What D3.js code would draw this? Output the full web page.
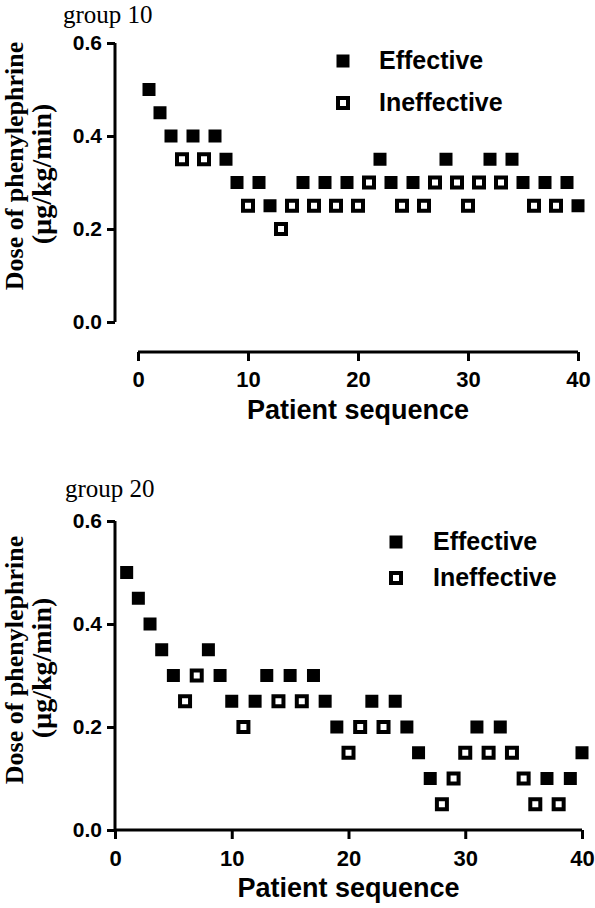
<!DOCTYPE html>
<html>
<head>
<meta charset="utf-8">
<script src="https://cdn.jsdelivr.net/npm/d3@7/dist/d3.min.js"></script>
<style>
  html, body { margin: 0; padding: 0; background: #fff; }
  svg { display: block; }
</style>
</head>
<body>
<div id="chart"></div>
<script>
// ---------------- DATA ----------------
const patientSeq = [1,2,3,4,5,6,7,8,9,10,11,12,13,14,15,16,17,18,19,20,
                    21,22,23,24,25,26,27,28,29,30,31,32,33,34,35,36,37,38,39,40];

const group10Dose = [0.50,0.45,0.40,0.35,0.40,0.35,0.40,0.35,0.30,0.25,
                     0.30,0.25,0.20,0.25,0.30,0.25,0.30,0.25,0.30,0.25,
                     0.30,0.35,0.30,0.25,0.30,0.25,0.30,0.35,0.30,0.25,
                     0.30,0.35,0.30,0.35,0.30,0.25,0.30,0.25,0.30,0.25];
const group10Outcome = ["E","E","E","I","E","I","E","E","E","I",
                        "E","E","I","I","E","I","E","I","E","I",
                        "I","E","E","I","E","I","I","E","I","I",
                        "I","E","I","E","E","I","E","I","E","E"];

const group20Dose = [0.50,0.45,0.40,0.35,0.30,0.25,0.30,0.35,0.30,0.25,
                     0.20,0.25,0.30,0.25,0.30,0.25,0.30,0.25,0.20,0.15,
                     0.20,0.25,0.20,0.25,0.20,0.15,0.10,0.05,0.10,0.15,
                     0.20,0.15,0.20,0.15,0.10,0.05,0.10,0.05,0.10,0.15];
const group20Outcome = ["E","E","E","E","E","I","I","E","E","E",
                        "I","E","E","I","E","I","E","E","E","I",
                        "I","E","I","E","E","E","E","I","I","I",
                        "E","I","E","I","I","I","E","I","E","E"];

const seriesNames = ["Effective", "Ineffective"];
const seriesCodes = ["E", "I"];
const yTicks = [0.0, 0.2, 0.4, 0.6];
const xTicks = [0, 10, 20, 30, 40];
const panelTitles = ["group 10", "group 20"];
const yTitleLines = ["Dose of phenylephrine", "(\u00b5g/kg/min)"];
const xTitle = "Patient sequence";

// ---------------- LAYOUT ----------------
const W = 595, H = 908;
const SANS = "'Liberation Sans', Arial, Helvetica, sans-serif";
const SERIF = "'Liberation Serif', 'Times New Roman', Times, serif";

const panels = [
  { title: panelTitles[0], dose: group10Dose, outcome: group10Outcome,
    titleX: 63, titleY: 22.5,
    yAxisX: 115, yTop: 43, yBottom: 322,
    xAxisY: 352, xLeft: 138, xRight: 578,
    xLabelY: 387, xTitleY: 419,
    yTitleCenter: 166, yTitleX1: 23, yTitleX2: 51,
    legendSqX: 343, legendTextX: 379, legendY1: 61, legendY2: 103 },
  { title: panelTitles[1], dose: group20Dose, outcome: group20Outcome,
    titleX: 65, titleY: 497,
    yAxisX: 115, yTop: 521, yBottom: 830,
    xAxisY: 830, xLeft: 115, xRight: 582,
    xLabelY: 866, xTitleY: 897,
    yTitleCenter: 660, yTitleX1: 23, yTitleX2: 51,
    legendSqX: 396, legendTextX: 433, legendY1: 542, legendY2: 578 }
];

const svg = d3.select("#chart").append("svg")
  .attr("width", W).attr("height", H)
  .attr("viewBox", `0 0 ${W} ${H}`);

const FILL_SIZE = 13;   // filled square side
const OPEN_SIZE = 10;   // open square path (stroke centred)
const OPEN_STROKE = 4;

function drawMarker(g, code, cx, cy) {
  if (code === "E") {
    g.append("rect")
      .attr("x", cx - FILL_SIZE / 2).attr("y", cy - FILL_SIZE / 2)
      .attr("width", FILL_SIZE).attr("height", FILL_SIZE)
      .attr("fill", "#000");
  } else {
    g.append("rect")
      .attr("x", cx - OPEN_SIZE / 2).attr("y", cy - OPEN_SIZE / 2)
      .attr("width", OPEN_SIZE).attr("height", OPEN_SIZE)
      .attr("fill", "#fff").attr("stroke", "#000")
      .attr("stroke-width", OPEN_STROKE);
  }
}

panels.forEach(p => {
  const g = svg.append("g");

  const x = d3.scaleLinear().domain([0, 40]).range([p.xLeft, p.xRight]);
  const y = d3.scaleLinear().domain([0, 0.6]).range([p.yBottom, p.yTop]);

  // panel title
  g.append("text")
    .attr("x", p.titleX).attr("y", p.titleY)
    .attr("font-family", SERIF).attr("font-size", 25)
    .attr("fill", "#000")
    .text(p.title);

  // y axis
  const yAxis = d3.axisLeft(y).tickValues(yTicks)
    .tickFormat(d3.format(".1f")).tickSize(8).tickSizeOuter(0).tickPadding(5);
  const gy = g.append("g").attr("transform", `translate(${p.yAxisX},0)`).call(yAxis);
  gy.select(".domain").attr("stroke", "#000").attr("stroke-width", 3)
    .attr("d", `M0,${p.yTop}V${p.yBottom}`);
  gy.selectAll(".tick line").attr("stroke", "#000").attr("stroke-width", 3);
  gy.selectAll(".tick text")
    .attr("font-family", SANS).attr("font-weight", "bold")
    .attr("font-size", 21).attr("fill", "#000");

  // x axis
  const xAxis = d3.axisBottom(x).tickValues(xTicks)
    .tickFormat(d3.format("d")).tickSize(9).tickSizeOuter(0).tickPadding(0);
  const gx = g.append("g").attr("transform", `translate(0,${p.xAxisY})`).call(xAxis);
  gx.select(".domain").attr("stroke", "#000").attr("stroke-width", 3)
    .attr("d", `M${p.xLeft},0H${p.xRight}`);
  gx.selectAll(".tick line").attr("stroke", "#000").attr("stroke-width", 3);
  gx.selectAll(".tick text")
    .attr("font-family", SANS).attr("font-weight", "bold")
    .attr("font-size", 22).attr("fill", "#000")
    .attr("dy", null)
    .attr("y", p.xLabelY - p.xAxisY);

  // x title
  g.append("text")
    .attr("x", (p.xLeft + p.xRight) / 2).attr("y", p.xTitleY)
    .attr("text-anchor", "middle")
    .attr("font-family", SANS).attr("font-weight", "bold").attr("font-size", 27)
    .attr("fill", "#000")
    .text(xTitle);

  // y title (two lines, rotated)
  [p.yTitleX1, p.yTitleX2].forEach((tx, i) => {
    g.append("text")
      .attr("transform", `translate(${tx},${p.yTitleCenter + i * 8}) rotate(-90)`)
      .attr("text-anchor", "middle")
      .attr("font-family", SERIF).attr("font-weight", "bold")
      .attr("font-size", i === 0 ? 26 : 28)
      .attr("fill", "#000")
      .text(yTitleLines[i]);
  });

  // points
  const pts = g.append("g");
  patientSeq.forEach((n, i) => {
    drawMarker(pts, p.outcome[i], x(n), y(p.dose[i]));
  });

  // legend
  const leg = g.append("g");
  [p.legendY1, p.legendY2].forEach((ly, i) => {
    drawMarker(leg, seriesCodes[i], p.legendSqX, ly);
    leg.append("text")
      .attr("x", p.legendTextX).attr("y", ly + 8)
      .attr("font-family", SANS).attr("font-weight", "bold").attr("font-size", 25)
      .attr("fill", "#000")
      .text(seriesNames[i]);
  });
});
</script>
</body>
</html>
